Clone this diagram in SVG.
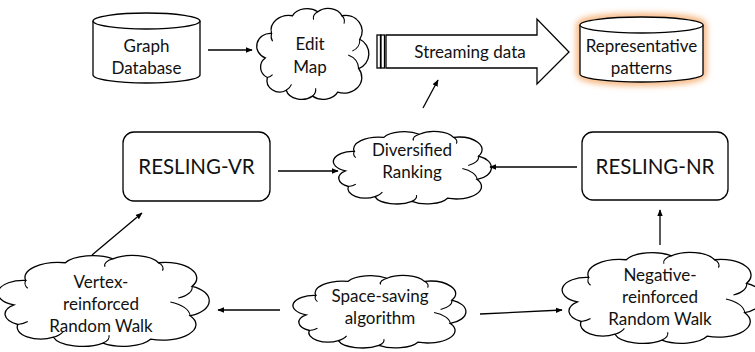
<svg xmlns="http://www.w3.org/2000/svg" xmlns:xlink="http://www.w3.org/1999/xlink" width="755" height="352" viewBox="0 0 755 352">
<style>
.s{fill:#fff;stroke:#000;stroke-width:1.3}
.t{font-family:Lato,"Liberation Sans",sans-serif;font-size:17px;fill:#111;text-anchor:middle}
.b{font-size:20.5px}
.c{stroke:#000;stroke-width:1.3;fill:none}
</style>
<defs>
<marker id="ah" viewBox="0 0 10 10" refX="9" refY="5" markerWidth="7" markerHeight="7" orient="auto" markerUnits="userSpaceOnUse">
<path d="M0,1 L10,5 L0,9 Z" fill="#000"/>
</marker>
<g id="cloud">
<path vector-effect="non-scaling-stroke" fill="#fff" stroke="#000" stroke-width="1.3" d="M5,55 A13,13 0 0 1 11,30 A17,15 0 0 1 31,12 A15,12 0 0 1 55,8 A14,12 0 0 1 78,12 A16,16 0 0 1 95,36 A14,16 0 0 1 94,66 A17,16 0 0 1 74,90 A15,12 0 0 1 50,94 A15,12 0 0 1 25,88 A12,12 0 0 1 7,75 A12,12 0 0 1 5,55 Z"/>
<path vector-effect="non-scaling-stroke" fill="none" stroke="#000" stroke-width="1.1" d="M11,30 A10,10 0 0 0 12,38 M55,8 A10,8 0 0 0 51,16 M78,12 A8,8 0 0 1 80,20 M95,36 A12,12 0 0 1 88,48 M94,66 A16,16 0 0 0 84,52 M50,94 A12,10 0 0 0 53,86 M25,88 A12,12 0 0 0 30,82 M7,75 A10,10 0 0 0 12,72"/>
</g>
<filter id="glow" x="-30%" y="-30%" width="160%" height="160%">
<feGaussianBlur stdDeviation="3"/>
</filter>
</defs>

<g id="graph-database">
<path class="s" d="M93,21 V75 A53.5,8 0 0 0 200,75 V21"/>
<ellipse class="s" cx="146.5" cy="21" rx="53.5" ry="8"/>
<text class="t" x="146.5" y="52">Graph</text>
<text class="t" x="146.5" y="74">Database</text>
</g>

<g id="edit-map">
<use xlink:href="#cloud" href="#cloud" transform="translate(260,4) scale(1.05,0.98)"/>
<text class="t" x="310" y="50">Edit</text>
<text class="t" x="310" y="73">Map</text>
</g>

<g id="streaming-data">
<rect class="s" x="377" y="35" width="3.5" height="33"/>
<rect class="s" x="381" y="35" width="3.5" height="33"/>
<path class="s" d="M386,35 H537 V19 L569,52 L537,84 V68 H386 Z"/>
<text class="t" x="470" y="58">Streaming data</text>
</g>

<g id="representative-patterns">
<path d="M580,25 V74 A61.5,8 0 0 0 703,74 V25 A61.5,8 0 0 0 580,25 Z" fill="none" stroke="#f4a460" stroke-width="7" filter="url(#glow)" opacity="0.9"/>
<path class="s" d="M580,25 V74 A61.5,8 0 0 0 703,74 V25"/>
<ellipse class="s" cx="641.5" cy="25" rx="61.5" ry="8"/>
<text class="t" x="641.5" y="52">Representative</text>
<text class="t" x="641.5" y="74">patterns</text>
</g>

<g id="resling-vr">
<rect class="s" x="123" y="132" width="147" height="69" rx="11"/>
<text class="t b" x="196.5" y="174">RESLING-VR</text>
</g>

<g id="diversified-ranking">
<use xlink:href="#cloud" href="#cloud" transform="translate(338,128) scale(1.48,0.78)"/>
<text class="t" x="412" y="156">Diversified</text>
<text class="t" x="412" y="178">Ranking</text>
</g>

<g id="resling-nr">
<rect class="s" x="582" y="132" width="146" height="68" rx="11"/>
<text class="t b" x="655" y="174">RESLING-NR</text>
</g>

<g id="vertex-rw">
<use xlink:href="#cloud" href="#cloud" transform="translate(4,251) scale(1.98,0.98)"/>
<text class="t" x="101" y="288">Vertex-</text>
<text class="t" x="101" y="310">reinforced</text>
<text class="t" x="101" y="332">Random Walk</text>
</g>

<g id="space-saving">
<use xlink:href="#cloud" href="#cloud" transform="translate(298,272) scale(1.62,0.78)"/>
<text class="t" x="380" y="302">Space-saving</text>
<text class="t" x="380" y="324">algorithm</text>
</g>

<g id="negative-rw">
<use xlink:href="#cloud" href="#cloud" transform="translate(568,248) scale(1.88,0.98)"/>
<text class="t" x="660" y="281">Negative-</text>
<text class="t" x="660" y="303">reinforced</text>
<text class="t" x="660" y="325">Random Walk</text>
</g>

<g id="connectors">
<line class="c" x1="208" y1="50" x2="252" y2="50" marker-end="url(#ah)"/>
<line class="c" x1="423" y1="108" x2="438" y2="80" marker-end="url(#ah)"/>
<line class="c" x1="278" y1="171" x2="338" y2="171" marker-end="url(#ah)"/>
<line class="c" x1="577" y1="167" x2="490" y2="167" marker-end="url(#ah)"/>
<line class="c" x1="660" y1="245" x2="660" y2="210" marker-end="url(#ah)"/>
<line class="c" x1="92" y1="255" x2="142" y2="213" marker-end="url(#ah)"/>
<line class="c" x1="280" y1="310" x2="218" y2="310" marker-end="url(#ah)"/>
<line class="c" x1="480" y1="314" x2="562" y2="310" marker-end="url(#ah)"/>
</g>
</svg>
